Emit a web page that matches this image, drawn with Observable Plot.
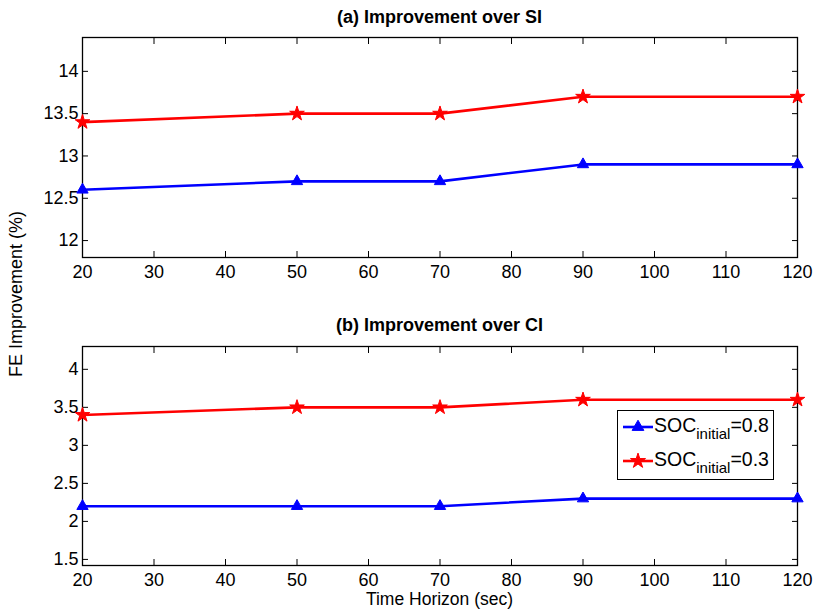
<!DOCTYPE html>
<html><head><meta charset="utf-8">
<script src="https://cdn.jsdelivr.net/npm/d3@7"></script>
<script src="https://cdn.jsdelivr.net/npm/@observablehq/plot@0.6"></script>
<style>
body{margin:0;background:#fff;}
#wrap{position:relative;width:814px;height:612px;font-family:"Liberation Sans",Arial,Helvetica,sans-serif;color:#000;overflow:hidden;}
.panel{position:absolute;left:0;}
.title{position:absolute;left:82px;width:715px;text-align:center;font-weight:bold;font-size:18px;line-height:22px;white-space:nowrap;}
.ylab{position:absolute;left:15.5px;top:293.5px;transform:translate(-50%,-50%) rotate(-90deg);font-size:18px;line-height:22px;white-space:nowrap;}
.xlab{position:absolute;left:82px;width:715px;top:591px;text-align:center;font-size:17.5px;line-height:17px;white-space:nowrap;}
.legend{position:absolute;left:617px;top:410px;width:155px;height:68px;border:1px solid #000;background:#fff;}
.legend svg{position:absolute;left:5px;}
.legend .txt{position:absolute;left:36px;font-size:19.5px;line-height:20px;white-space:nowrap;}
.legend sub{font-size:15px;vertical-align:-7px;line-height:0;}
</style></head><body><div id="wrap"></div>
<script>
const horizon = [20, 50, 70, 90, 120];
const siSoc08 = [12.6, 12.7, 12.7, 12.9, 12.9];
const siSoc03 = [13.4, 13.5, 13.5, 13.7, 13.7];
const ciSoc08 = [2.2, 2.2, 2.2, 2.3, 2.3];
const ciSoc03 = [3.4, 3.5, 3.5, 3.6, 3.6];
const xTicks = [20, 30, 40, 50, 60, 70, 80, 90, 100, 110, 120];
const siTicks = [12, 12.5, 13, 13.5, 14];
const ciTicks = [1.5, 2, 2.5, 3, 3.5, 4];
const siDomain = [11.8, 14.4];
const ciDomain = [1.42, 4.3];
const titles = ["(a) Improvement over SI", "(b) Improvement over CI"];
const yLabel = "FE Improvement (%)";
const xLabel = "Time Horizon (sec)";
const seriesBase = "SOC";
const seriesSub = "initial";
const seriesValues = ["=0.8", "=0.3"];
const colors = ["#0000ff", "#ff0000"];
const symbols = ["triangle", "star"];

function rows(vals) { return horizon.map((x, i) => ({x, y: vals[i]})); }

function panel(yDomain, yTicks, s08, s03, mt, mb, h) {
  const fmt = d => String(d);
  const blank = () => "";
  const d08 = rows(s08), d03 = rows(s03);
  return Plot.plot({
    width: 814, height: h,
    marginTop: mt, marginBottom: mb, marginLeft: 82, marginRight: 17,
    style: {fontSize: "18px", fontFamily: "'Liberation Sans', Arial, sans-serif", color: "#000", background: "#fff", overflow: "visible"},
    x: {domain: [20, 120], label: null},
    y: {domain: yDomain, label: null},
    marks: [
      Plot.axisX(xTicks, {anchor: "bottom", tickSize: 0, tickPadding: 8, tickFormat: fmt, label: null, fontSize: 18}),
      Plot.axisY(yTicks, {anchor: "left", tickSize: 0, tickPadding: 4, tickFormat: fmt, label: null, fontSize: 18}),
      Plot.axisX(xTicks, {anchor: "bottom", tickSize: -6, tickFormat: blank, label: null}),
      Plot.axisX(xTicks, {anchor: "top", tickSize: -6, tickFormat: blank, label: null}),
      Plot.axisY(yTicks, {anchor: "left", tickSize: -6, tickFormat: blank, label: null}),
      Plot.axisY(yTicks, {anchor: "right", tickSize: -6, tickFormat: blank, label: null}),
      Plot.frame({stroke: "#000", strokeWidth: 1.3}),
      Plot.line(d08, {x: "x", y: "y", stroke: colors[0], strokeWidth: 2.6}),
      Plot.line(d03, {x: "x", y: "y", stroke: colors[1], strokeWidth: 2.6}),
      Plot.dot(d08, {x: "x", y: "y", symbol: symbols[0], r: 4.2, fill: colors[0], stroke: colors[0], strokeWidth: 1}),
      Plot.dot(d03, {x: "x", y: "y", symbol: symbols[1], r: 4.6, fill: colors[1], stroke: colors[1], strokeWidth: 1})
    ]
  });
}

const wrap = document.getElementById("wrap");
const p1 = panel(siDomain, siTicks, siSoc08, siSoc03, 37, 33, 290);
p1.classList.add("panel"); p1.style.top = "0px";
wrap.appendChild(p1);
const p2 = panel(ciDomain, ciTicks, ciSoc08, ciSoc03, 46, 35, 300);
p2.classList.add("panel"); p2.style.top = "300px";
wrap.appendChild(p2);

[[titles[0], 5.5], [titles[1], 314]].forEach(([t, top]) => {
  const d = document.createElement("div");
  d.className = "title"; d.style.top = top + "px"; d.textContent = t;
  wrap.appendChild(d);
});
const yl = document.createElement("div"); yl.className = "ylab"; yl.textContent = yLabel; wrap.appendChild(yl);
const xl = document.createElement("div"); xl.className = "xlab"; xl.textContent = xLabel; wrap.appendChild(xl);

const lg = document.createElement("div"); lg.className = "legend"; wrap.appendChild(lg);
const sym = [d3.symbolTriangle, d3.symbolStar];
[0, 1].forEach(i => {
  const path = d3.symbol(sym[i], i === 0 ? 60 : 70)();
  const s = document.createElementNS("http://www.w3.org/2000/svg", "svg");
  s.setAttribute("width", 30); s.setAttribute("height", 20);
  s.style.top = (i === 0 ? 5.7 : 40) + "px";
  s.innerHTML = `<line x1="0" x2="30" y1="10" y2="10" stroke="${colors[i]}" stroke-width="2.6"/><path d="${path}" transform="translate(15,10)" fill="${colors[i]}" stroke="${colors[i]}"/>`;
  lg.appendChild(s);
  const t = document.createElement("div"); t.className = "txt";
  t.style.top = (i === 0 ? 4 : 37.5) + "px";
  t.innerHTML = `${seriesBase}<sub>${seriesSub}</sub>${seriesValues[i]}`;
  lg.appendChild(t);
});
</script>
</body></html>
